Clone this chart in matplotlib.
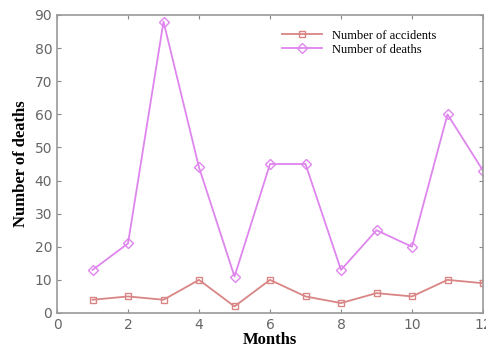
import matplotlib
matplotlib.use("Agg")
import matplotlib.pyplot as plt

months = [1, 2, 3, 4, 5, 6, 7, 8, 9, 10, 11, 12]
accidents = [4, 5, 4, 10, 2, 10, 5, 3, 6, 5, 10, 9]
deaths = [13, 21, 88, 44, 11, 45, 45, 13, 25, 20, 60, 43]
xticks = [0, 2, 4, 6, 8, 10, 12]
yticks = [0, 10, 20, 30, 40, 50, 60, 70, 80, 90]

fig = plt.figure(figsize=(4.86, 3.47), dpi=100)
ax = fig.add_axes([57/486, 1 - 313/347, (483-57)/486, (313-15)/347])

c_acc = "#d98585"
c_dea = "#df85ee"
ax.plot(months, accidents, color=c_acc, marker="s", markersize=4.5, markerfacecolor="none",
        markeredgecolor=c_acc, linewidth=1.3, label="Number of accidents")
ax.plot(months, deaths, color=c_dea, marker="D", markersize=5.5, markerfacecolor="none",
        markeredgecolor=c_dea, linewidth=1.3, label="Number of deaths")

ax.set_xlim(0, 12)
ax.set_ylim(0, 90)
ax.set_xticks(xticks)
ax.set_yticks(yticks)
ax.tick_params(direction="in", top=True, right=True, length=3, colors="#888888",
               labelsize=10, labelcolor="#666666")
for s in ax.spines.values():
    s.set_color("#999999")
    s.set_linewidth(1.2)

ax.set_xlabel("Months", fontfamily="Liberation Serif", fontsize=12, fontweight="bold", labelpad=0)
ax.set_ylabel("Number of deaths", fontfamily="Liberation Serif", fontsize=12, fontweight="bold", labelpad=4)

leg = ax.legend(loc="upper right", bbox_to_anchor=(0.91, 0.98), frameon=False,
                prop={"family": "Liberation Serif", "size": 9}, handlelength=3.2,
                labelspacing=0.15, borderaxespad=0.3)

fig.savefig("out.png", dpi=100)
